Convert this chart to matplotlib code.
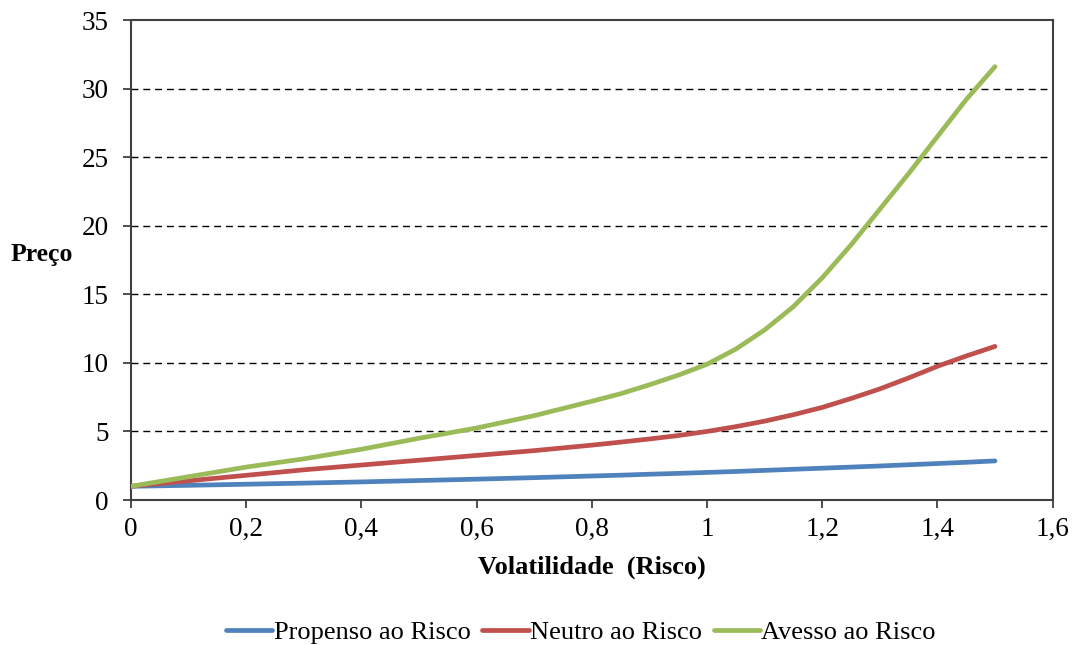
import matplotlib
matplotlib.use("Agg")
import matplotlib.pyplot as plt

plt.rcParams['font.family'] = ['Liberation Serif', 'DejaVu Serif']

x = [0.0, 0.1, 0.2, 0.3, 0.4, 0.5, 0.6, 0.7, 0.8, 0.85, 0.9, 0.95, 1.0,
     1.05, 1.1, 1.15, 1.2, 1.25, 1.3, 1.35, 1.4, 1.45, 1.5]
propenso = [1.0, 1.07, 1.15, 1.23, 1.32, 1.42, 1.52, 1.63, 1.75, 1.81, 1.88, 1.94, 2.01,
            2.08, 2.16, 2.24, 2.32, 2.40, 2.48, 2.57, 2.66, 2.75, 2.85]
neutro = [1.0, 1.4, 1.8, 2.2, 2.55, 2.9, 3.25, 3.6, 4.0, 4.22, 4.45, 4.7, 5.0,
          5.35, 5.75, 6.22, 6.75, 7.4, 8.1, 8.9, 9.75, 10.5, 11.2]
avesso = [1.0, 1.7, 2.4, 3.0, 3.7, 4.5, 5.25, 6.15, 7.2, 7.75, 8.4, 9.1, 9.9,
          11.0, 12.4, 14.1, 16.2, 18.6, 21.2, 23.8, 26.5, 29.2, 31.6]

series_names = ['Propenso ao Risco', 'Neutro ao Risco', 'Avesso ao Risco']
series_colors = ['#4F81BD', '#C0504D', '#9BBB59']
x_ticks = [0, 0.2, 0.4, 0.6, 0.8, 1.0, 1.2, 1.4, 1.6]
x_tick_labels = ['0', '0,2', '0,4', '0,6', '0,8', '1', '1,2', '1,4', '1,6']
y_ticks = [0, 5, 10, 15, 20, 25, 30, 35]

fig = plt.figure(figsize=(10.73, 6.45), dpi=100)
ax = fig.add_axes([131/1073, 1 - 500/645, (1052.6 - 131)/1073, 480/645])

for ys, name, col in zip([propenso, neutro, avesso], series_names, series_colors):
    ax.plot(x, ys, color=col, lw=3.4, label=name, solid_capstyle='round',
            solid_joinstyle='round', zorder=3)

ax.set_xlim(0, 1.6)
ax.set_ylim(0, 35)
ax.set_xticks(x_ticks)
ax.set_xticklabels(x_tick_labels)
ax.set_yticks(y_ticks)

for yv in y_ticks[1:-1]:
    ax.axhline(yv, color='black', lw=1.0, ls=(0, (5, 3.5)), zorder=1)

for sp in ax.spines.values():
    sp.set_color('#404040')
    sp.set_linewidth(1.5)

ax.tick_params(axis='both', direction='out', length=6, width=1.3, color='#404040',
               labelsize=19.5, labelcolor='black')
ax.tick_params(axis='x', pad=6)
ax.tick_params(axis='y', pad=10)

ax.set_xlabel('Volatilidade  (Risco)', fontsize=19, fontweight='bold', labelpad=10)
fig.text(42/1073, 1 - 255/645, 'Preço', fontsize=18.5, fontweight='bold',
         ha='center', va='center')

leg = fig.legend(loc='center', bbox_to_anchor=(581/1073, 1 - 632/645), ncol=3,
                 frameon=False, fontsize=19, handlelength=1.75, handletextpad=0.05,
                 columnspacing=0.45)

fig.savefig('out.png', dpi=100)
